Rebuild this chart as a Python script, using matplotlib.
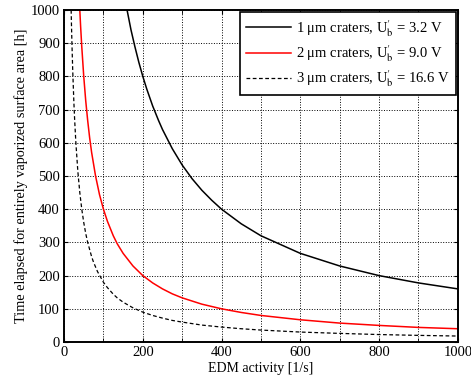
import matplotlib
matplotlib.use("Agg")
from matplotlib import pyplot as plt

plt.rcParams['font.family'] = ['Liberation Serif', 'DejaVu Serif']
plt.rcParams['mathtext.fontset'] = 'stix'

# values
x1 = [160, 165, 170, 180, 190, 200, 210, 225, 240, 250, 275, 300, 325, 350, 375, 400,
      450, 500, 600, 700, 800, 900, 1000]
t1 = [1000, 970, 940, 889, 842, 800, 762, 711, 667, 640, 582, 533, 492, 457, 427, 400,
      356, 320, 267, 229, 200, 178, 160]

x2 = [40, 42, 45, 50, 55, 60, 65, 70, 80, 90, 100, 110, 125, 135, 150, 175, 200, 225,
      250, 275, 300, 350, 400, 450, 500, 600, 700, 800, 900, 1000]
t2 = [1000, 952, 889, 800, 727, 667, 615, 571, 500, 444, 400, 364, 320, 296, 267, 229,
      200, 178, 160, 145, 133, 114, 100, 89, 80, 67, 57, 50, 44, 40]

x3 = [18, 19, 20, 22, 25, 27, 30, 35, 40, 45, 50, 55, 60, 70, 75, 85, 100, 110, 125,
      135, 150, 175, 200, 225, 250, 275, 300, 350, 400, 450, 500, 600, 700, 800, 900, 1000]
t3 = [1000, 947, 900, 818, 720, 667, 600, 514, 450, 400, 360, 327, 300, 257, 240, 212,
      180, 164, 144, 133, 120, 103, 90, 80, 72, 65, 60, 51, 45, 40, 36, 30, 26, 22.5, 20, 18]

labels = [r"1 μm craters, U$_\mathrm{b}^{\prime}$ = 3.2 V",
          r"2 μm craters, U$_\mathrm{b}^{\prime}$ = 9.0 V",
          r"3 μm craters, U$_\mathrm{b}^{\prime}$ = 16.6 V"]

fig = plt.figure(figsize=(4.71, 3.83), dpi=100)
ax = fig.add_axes([0.136, 0.107, 0.836, 0.867])

ax.plot(x1, t1, color='black', lw=1.1, label=labels[0])
ax.plot(x2, t2, color='red', lw=1.1, label=labels[1])
ax.plot(x3, t3, color='black', lw=0.9, ls=(0, (3, 2)), label=labels[2])

ax.set_xlim(0, 1000)
ax.set_ylim(0, 1000)
ax.set_xticks(range(0, 1001, 200))
ax.set_xticks(range(0, 1001, 100), minor=True)
ax.set_yticks(range(0, 1001, 100))
ax.grid(True, which='both', color='black', ls=':', lw=0.7)
ax.tick_params(which='both', direction='in', top=True, right=True, labelsize=10.5, length=3, pad=3)
for s in ax.spines.values():
    s.set_linewidth(1.4)

ax.set_xlabel("EDM activity [1/s]", fontsize=10, labelpad=2)
ax.set_ylabel("Time elapsed for entirely vaporized surface area [h]", fontsize=10.3, labelpad=2)

leg = ax.legend(loc='upper right', fontsize=10.5, fancybox=False, framealpha=1,
                edgecolor='black', borderaxespad=0.15, handlelength=3.1, handletextpad=0.35,
                labelspacing=0.3, borderpad=0.4)
leg.get_frame().set_linewidth(1.2)

fig.savefig("out.png", dpi=100)
